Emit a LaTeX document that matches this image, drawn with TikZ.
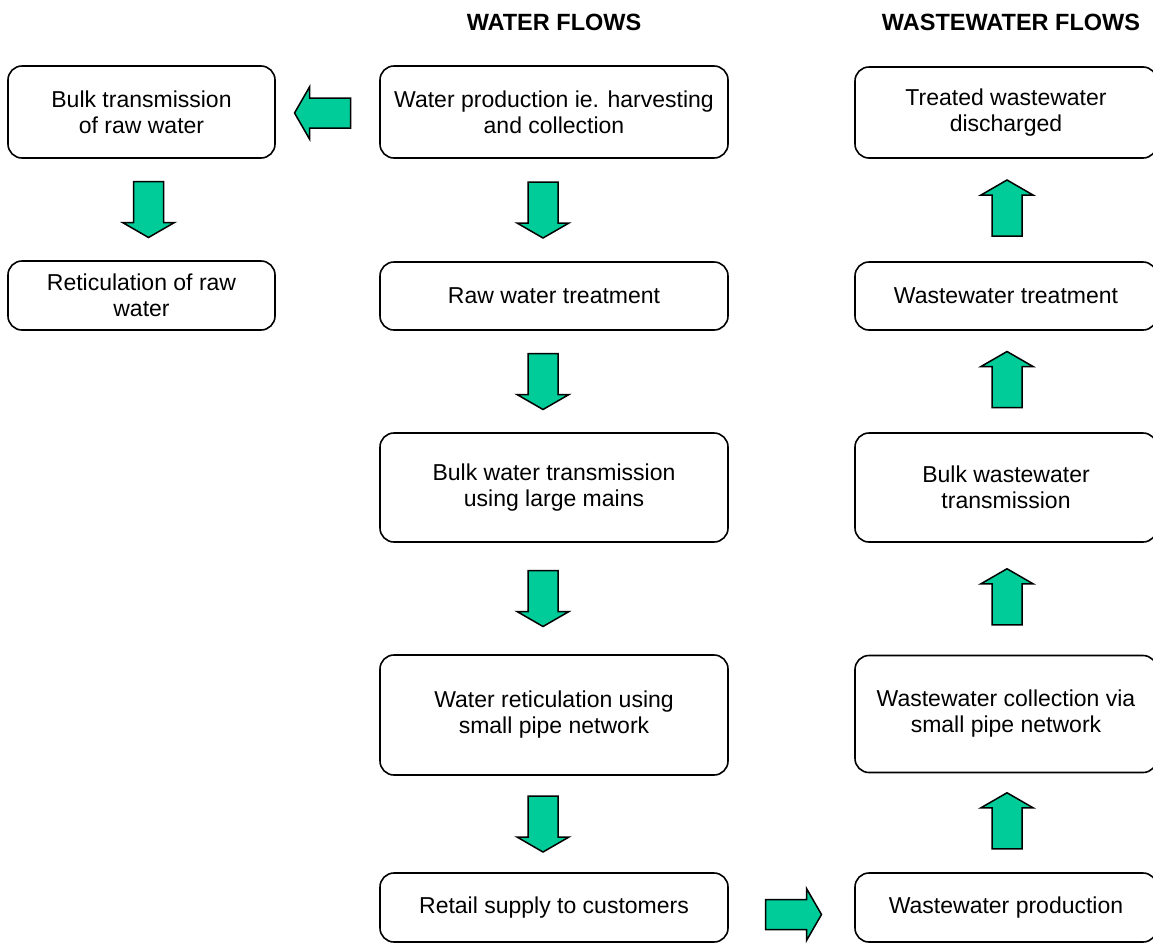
\documentclass[tikz,border=0pt]{standalone}
\usepackage{fontspec}
\setmainfont{Liberation Sans}
\usetikzlibrary{calc}
\definecolor{flowgreen}{RGB}{0,204,153}
\tikzset{
  stage/.style={draw, rounded corners=14pt, line width=1.6pt, align=center, inner sep=0pt},
  leftcol/.style={minimum width=267pt},
  midcol/.style={minimum width=348pt},
  rightcol/.style={minimum width=302pt},
  heading/.style={font=\fontsize{23.5}{27}\selectfont\bfseries},
  arrowbody/.style={draw, fill=flowgreen, line width=1.5pt, line join=miter},
  flowarrow/.pic={
    \draw[arrowbody] (-28,-15) -- (13,-15) -- (13,-26) -- (28,0)
      -- (13,26) -- (13,15) -- (-28,15) -- cycle;
  }
}
\begin{document}
\begin{tikzpicture}[x=1pt, y=-1pt, font=\fontsize{23}{26}\selectfont]
  \useasboundingbox (0,0) rectangle (1153,943);
  \node[heading] (hwater) at (554,22) {WATER FLOWS};
  \node[heading] (hwaste) at (1011,22) {WASTEWATER FLOWS};

  \node[stage, leftcol, minimum height=92pt] (l1) at (141.5,112) {Bulk transmission\\of raw water};
  \node[stage, leftcol, minimum height=69pt] (l2) at (141.5,295.5) {Reticulation of raw\\water};

  \node[stage, midcol, minimum height=92pt] (m1) at (554,112) {Water production ie. harvesting\\and collection};
  \node[stage, midcol, minimum height=68pt] (m2) at (554,296) {Raw water treatment};
  \node[stage, midcol, minimum height=109pt] (m3) at (554,487.5) {Bulk water transmission\\using large mains};
  \node[stage, midcol, minimum height=120pt] (m4) at (554,715) {Water reticulation using\\small pipe network};
  \node[stage, midcol, minimum height=69pt] (m5) at (554,907.5) {Retail supply to customers};

  \node[stage, rightcol, minimum height=91pt] (r1) at (1006,112.5) {Treated wastewater\\discharged};
  \node[stage, rightcol, minimum height=68pt] (r2) at (1006,296) {Wastewater treatment};
  \node[stage, rightcol, minimum height=109pt] (r3) at (1006,487.5) {Bulk wastewater\\transmission};
  \node[stage, rightcol, minimum height=117pt] (r4) at (1006,714) {Wastewater collection via\\small pipe network};
  \node[stage, rightcol, minimum height=69pt] (r5) at (1006,907.5) {Wastewater production};

  \begin{scope}
    \pic[rotate=180] at ($(l1.east)!.5!(m1.west)+(-5,1)$) {flowarrow};
    \pic[rotate=-90] at ($(l1.south)!.5!(l2.north)+(7,0)$) {flowarrow};
    \foreach \a/\b in {m1/m2, m2/m3, m3/m4, m4/m5}
      \pic[rotate=-90] at ($(\a.south)!.5!(\b.north)+(-11,0)$) {flowarrow};
    \pic at ($(m5.east)!.5!(r5.west)+(2,7)$) {flowarrow};
    \foreach \a/\b in {r5/r4, r4/r3, r3/r2, r2/r1}
      \pic[rotate=90] at ($(\a.north)!.5!(\b.south)+(1,-2)$) {flowarrow};
  \end{scope}
\end{tikzpicture}
\end{document}
